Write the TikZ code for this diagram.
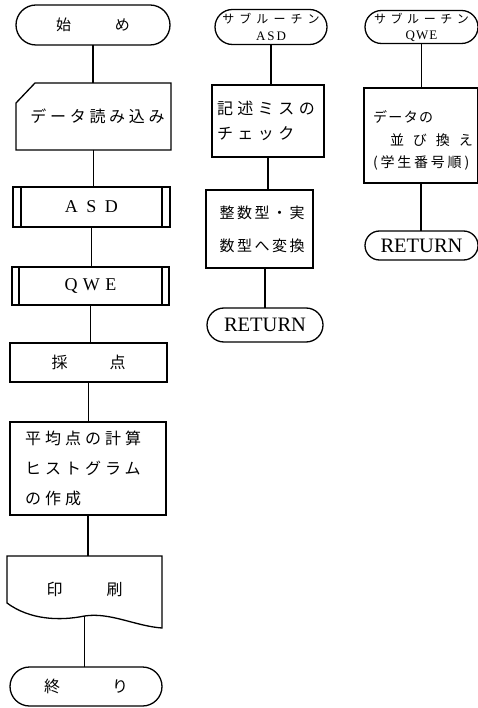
\documentclass[tikz,border=0pt]{standalone}
\usepackage{fontspec}
\newfontfamily\cjk{Noto Sans CJK JP}
\newfontfamily\lat{Liberation Serif}
\usetikzlibrary{shapes.misc}
\newcommand\jsz[2]{\fontsize{#1pt}{#2pt}\selectfont}
\newcommand\lsp[1]{\addfontfeature{LetterSpace=#1}}
\begin{document}
\begin{tikzpicture}[x=1pt,y=-1pt,line width=1.3pt,
  every node/.style={inner sep=0pt,outer sep=0pt},
  term/.style={draw,rounded rectangle},
  proc/.style={draw,rectangle},
  ghost/.style={rectangle},
  inner/.style={line width=1.5pt}]
\fill[white] (0,0) rectangle (478,708);
\useasboundingbox (0,0) rectangle (478,708);
\clip (0,0) rectangle (478,708);

% ---------- main flow ----------
\node[term, minimum width=154pt, minimum height=40pt, font={\cjk\jsz{15}{15}}] (start) at (93,25) {始\hspace{44pt}め};

\node[ghost, minimum width=155pt, minimum height=67pt, font={\cjk\jsz{16}{16}\lsp{23}}] (read) at (93.5,116.5) {\hspace*{8pt}データ読み込み};
\draw ([yshift=-20pt]read.north west) -- ([xshift=19pt]read.north west) -- (read.north east) -- (read.south east) -- (read.south west) -- cycle;

\node[proc, minimum width=157pt, minimum height=40pt, font={\lat\jsz{18}{18}}] (asd) at (91.5,207) {A\hspace{8.5pt}S\hspace{8.5pt}D};
\draw[inner] ([xshift=8pt]asd.north west) -- ([xshift=8pt]asd.south west);
\draw[inner] ([xshift=-8pt]asd.north east) -- ([xshift=-8pt]asd.south east);

\node[proc, minimum width=157pt, minimum height=38pt, font={\lat\jsz{18}{18}}] (qwe) at (90.5,286) {Q\hspace{5.5pt}W\hspace{5.5pt}E};
\draw[inner] ([xshift=7pt]qwe.north west) -- ([xshift=7pt]qwe.south west);
\draw[inner] ([xshift=-7pt]qwe.north east) -- ([xshift=-7pt]qwe.south east);

\node[proc, minimum width=157pt, minimum height=39pt, font={\cjk\jsz{16}{16}}] (score) at (88.5,362.5) {採\hspace{42pt}点};

\node[proc, minimum width=156pt, minimum height=93pt, text width=126pt, align=left, font={\cjk\jsz{16}{30}\lsp{25}}] (avg) at (88,468.5) {平均点の計算\\ヒストグラム\\の作成};

\node[ghost, minimum width=155pt, minimum height=60pt, font={\cjk\jsz{16}{16}}] (print) at (84.5,586) {\raisebox{-3pt}[\height][\depth]{印\hspace{44pt}刷}};
\draw (print.north west) -- (print.north east) -- (162,628) .. controls (135,626) and (110,612) .. (84.5,616) .. controls (60,621) and (30,620) .. (7,603) -- cycle;

\node[term, minimum width=152pt, minimum height=39pt, font={\cjk\jsz{16}{16}}] (fin) at (86,686.5) {終\hspace{52pt}り};

\draw (start.south) -- (start.south |- read.north);
\draw (read.south) -- (read.south |- asd.north);
\draw (asd.south) -- (asd.south |- qwe.north);
\draw (qwe.south) -- (qwe.south |- score.north);
\draw (score.south) -- (score.south |- avg.north);
\draw (avg.south) -- (avg.south |- print.north);
\draw (print.south) -- (print.south |- fin.north);

% ---------- subroutine ASD ----------
\node[term, minimum width=112pt, minimum height=35pt, align=center, font={\lat\jsz{13}{17}}] (suba) at (271,27) {{\cjk\jsz{12}{12}\lsp{42}サブルーチン}\\A\hspace{2pt}S\hspace{2pt}D};

\node[proc, minimum width=112pt, minimum height=72pt, text width=102pt, align=left, font={\cjk\jsz{16}{25}\lsp{28}}] (chk) at (268,121) {記述ミスの\\チェック};

\node[proc, minimum width=107pt, minimum height=78pt, text width=80pt, align=left, font={\cjk\jsz{15}{33}\lsp{17}}] (conv) at (259.5,229) {整数型・実\\数型へ変換};

\node[term, minimum width=116pt, minimum height=34pt, font={\lat\jsz{20.5}{20.5}}] (reta) at (265,325) {RETURN};

\draw (suba.south) -- (suba.south |- chk.north);
\draw (chk.south) -- (chk.south |- conv.north);
\draw (reta.north |- conv.south) -- (reta.north);

% ---------- subroutine QWE ----------
\node[term, minimum width=113pt, minimum height=33pt, align=center, font={\lat\jsz{13}{16}}] (subq) at (421.5,27) {{\cjk\jsz{12}{12}\lsp{38}サブルーチン}\\Q\hspace{1pt}W\hspace{1pt}E};

\node[proc, minimum width=114pt, minimum height=95pt] (sort) at (421,135.5) {};
\node[anchor=north west, text width=104pt, align=left, font={\cjk\jsz{14}{22.5}}] (sorttxt) at (373,111) {{\lsp{10}データの}\\\hspace*{17pt}{\lsp{64}並び換え}\\{\lsp{20}(学生番号順)}};

\node[term, minimum width=113pt, minimum height=29pt, font={\lat\jsz{20.5}{20.5}}] (retq) at (421.5,245.5) {RETURN};

\draw (subq.south) -- (subq.south |- sort.north);
\draw (sort.south) -- (sort.south |- retq.north);
\end{tikzpicture}
\end{document}
